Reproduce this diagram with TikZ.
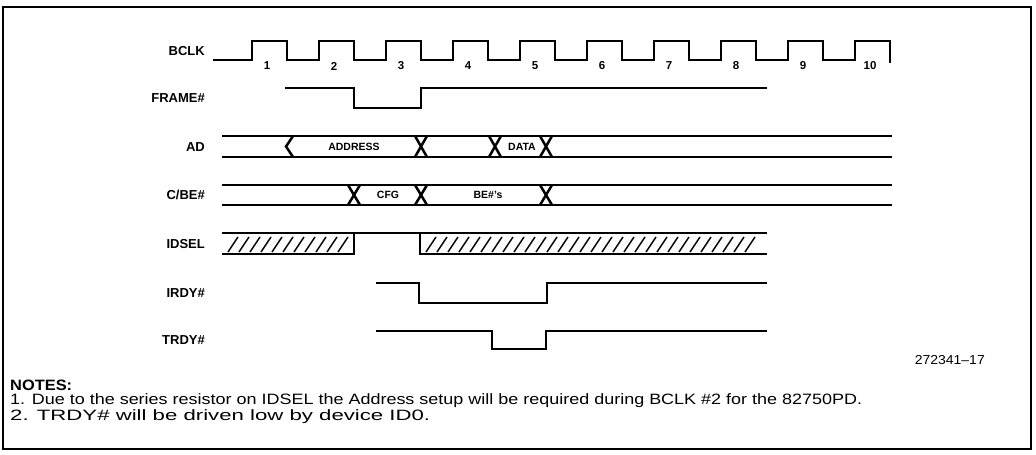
\documentclass[tikz,border=0pt]{standalone}
\usepackage{fontspec}
\setmainfont{Liberation Sans}
\begin{document}
\begin{tikzpicture}[x=1pt,y=-1pt,
  wave/.style={line width=2.5pt, line join=miter},
  frame/.style={line width=1.2pt},
  lbl/.style={font=\bfseries\fontsize{13}{13}\selectfont, anchor=east, inner sep=0pt},
  num/.style={font=\bfseries\fontsize{11.5}{11.5}\selectfont, inner sep=0pt},
  buslbl/.style={font=\bfseries\fontsize{10.5}{10.5}\selectfont, inner sep=0pt},
  hatchline/.style={line width=1.5pt},
  note/.style={font=\fontsize{15}{16}\selectfont, anchor=west, inner sep=0pt}]
\useasboundingbox (0,0) rectangle (1036,455);
\draw[frame] (3,7) rectangle (1031,449);

% signal labels
\node[lbl] (lbclk) at (205,51) {BCLK};
\node[lbl] (lframe) at (205,98) {FRAME\#};
\node[lbl] (lad) at (205,147) {AD};
\node[lbl] (lcbe) at (205,195) {C/BE\#};
\node[lbl] (lidsel) at (205,244) {IDSEL};
\node[lbl] (lirdy) at (205,293) {IRDY\#};
\node[lbl] (ltrdy) at (205,340) {TRDY\#};

% BCLK
\draw[wave] (213,60)
  foreach \r in {252,319,386,453,520,587,654,721,788} { -- (\r,60) -- (\r,41) -- (\r+35,41) -- (\r+35,60) }
  -- (855,60) -- (855,41) -- (890,41) -- (890,63);
\foreach \r [count=\i] in {252,319,386,453,520,587,654,721,788,855}
  \node[num] (n\i) at (\r+15,66) {\i};

% FRAME#
\draw[wave] (285,88) -- (354,88) -- (354,108) -- (421,108) -- (421,88) -- (767,88);

% AD bus
\draw[wave] (222,136) -- (892,136) (222,157) -- (892,157);
\draw[wave] (293,136) -- (286,146.5) -- (293,157);
\foreach \x in {421,495,546}
  \draw[wave] (\x-6,136) -- (\x+6,157) (\x-6,157) -- (\x+6,136);
\node[buslbl] (addr) at (354,147) {ADDRESS};
\node[buslbl] (data) at (522,147) {DATA};

% C/BE# bus
\draw[wave] (222,185) -- (892,185) (222,205) -- (892,205);
\foreach \x in {354,421,546}
  \draw[wave] (\x-6,185) -- (\x+6,205) (\x-6,205) -- (\x+6,185);
\node[buslbl] (cfg) at (388,195) {CFG};
\node[buslbl] (bes) at (488,195) {BE\#'s};

% IDSEL
\draw[wave] (222,233) -- (767,233);
\draw[wave] (222,254) -- (354,254) -- (354,233);
\draw[wave] (420,233) -- (420,254) -- (767,254);
\foreach \x in {228,239,...,338}
  \draw[hatchline] (\x,252) -- (\x+10,237);
\foreach \x in {426,437,...,746}
  \draw[hatchline] (\x,252) -- (\x+10,237);

% IRDY#
\draw[wave] (376,283) -- (419,283) -- (419,303) -- (547,303) -- (547,283) -- (767,283);
% TRDY#
\draw[wave] (376,331) -- (492,331) -- (492,349) -- (546,349) -- (546,331) -- (767,331);

\node[anchor=east, inner sep=0pt] (fig) at (985,360) {\resizebox{70pt}{\height}{\fontsize{13}{13}\selectfont 272341--17}};

\node[note] (notes) at (10,385) {\resizebox{62pt}{\height}{\bfseries NOTES:}};
\node[note] (note1) at (10,401) {\resizebox{852pt}{\height}{1. Due to the series resistor on IDSEL the Address setup will be required during BCLK \#2 for the 82750PD.}};
\node[note] (note2) at (10,417) {\resizebox{420pt}{\height}{2. TRDY\# will be driven low by device ID0.}};
\end{tikzpicture}
\end{document}
